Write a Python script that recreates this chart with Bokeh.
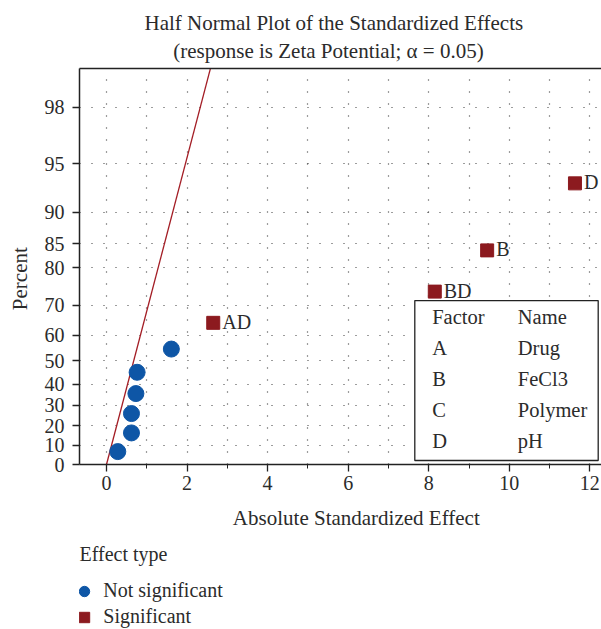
from statistics import NormalDist
from math import pi
from bokeh.plotting import figure
from bokeh.layouts import column
from bokeh.models import (Range1d, FixedTicker, LinearAxis, Label, BoxAnnotation,
                          Legend, LegendItem, ColumnDataSource)
from bokeh.core.properties import value
from bokeh.embed import file_html
from bokeh.resources import INLINE

# ---------------- data ----------------
ns_effect = [0.28, 0.62, 0.62, 0.73, 0.76, 1.61]
ns_percent = [6.7, 16.3, 26.0, 35.6, 45.2, 54.8]
sig_terms = ["AD", "BD", "B", "D"]
sig_effect = [2.65, 8.15, 9.45, 11.63]
sig_percent = [64.4, 74.0, 83.7, 93.3]
ref_effect = [0.0, 2.7]          # reference line: effect = half-normal score
percent_ticks = [0, 10, 20, 30, 40, 50, 60, 70, 80, 85, 90, 95, 98]
effect_ticks = [0, 2, 4, 6, 8, 10, 12]
effect_minor = [1, 3, 5, 7, 9, 11]
factor_codes = ["A", "B", "C", "D"]
factor_names = ["Drug", "FeCl3", "Polymer", "pH"]
effect_types = ["Not significant", "Significant"]

# ---------------- style ----------------
FONT = "Liberation Serif"
TXT = "#2b2b2b"
BLUE = "#0e56a6"
RED = "#8c1a1f"
LINE_RED = "#a31d25"
MAIN_H = 570


def hn(p):
    """half-normal probability scale"""
    return NormalDist().inv_cdf(0.5 + p / 200.0)


# pixel -> data helpers for placing annotations (layout only)
def X(px):
    return (px - 106.0) / 40.28


def Z(py):
    return (464.0 - py) / 153.6


src_ns = ColumnDataSource(dict(x=ns_effect, z=[hn(v) for v in ns_percent]))
src_sig = ColumnDataSource(dict(x=sig_effect, z=[hn(v) for v in sig_percent],
                                term=sig_terms))
tick_z = [hn(v) for v in percent_ticks]

p = figure(width=601, height=MAIN_H, output_backend="svg", toolbar_location=None,
           x_range=Range1d(X(79), X(601)), y_range=Range1d(0, Z(67.7)),
           min_border_left=79, min_border_right=0, min_border_top=68,
           min_border_bottom=MAIN_H - 464)
p.outline_line_color = None
p.background_fill_color = "white"

# axes
for ax in (p.xaxis[0], p.yaxis[0]):
    ax.axis_line_color = "#222222"
    ax.axis_line_width = 1.5
    ax.major_tick_line_color = "#222222"
    ax.major_tick_line_width = 1.3
    ax.major_tick_in = 0
    ax.major_tick_out = 7
    ax.major_label_text_font = FONT
    ax.major_label_text_font_size = "20px"
    ax.major_label_text_color = TXT

p.xaxis.ticker = FixedTicker(ticks=effect_ticks, minor_ticks=effect_minor)
p.xaxis.minor_tick_in = 0
p.xaxis.minor_tick_out = 4
p.xaxis.minor_tick_line_color = "#222222"
p.xaxis.major_label_standoff = 4

p.yaxis.ticker = FixedTicker(ticks=tick_z)
p.yaxis.major_label_overrides = {z: str(v) for z, v in zip(tick_z, percent_ticks)}
p.yaxis.minor_tick_line_color = None
p.yaxis.major_label_standoff = 8

top = LinearAxis(ticker=FixedTicker(ticks=[]), axis_line_color="#222222",
                 axis_line_width=1.5, major_tick_line_color=None,
                 minor_tick_line_color=None, major_label_text_font_size="0px")
p.add_layout(top, "above")

# grids (dotted)
for g in (p.xgrid[0], p.ygrid[0]):
    g.grid_line_color = "#3a3a3a"
    g.grid_line_dash = "1 11"
    g.grid_line_width = 1.2
p.xgrid.minor_grid_line_color = "#3a3a3a"
p.xgrid.minor_grid_line_dash = "1 11"
p.xgrid.minor_grid_line_width = 1.2

# reference line
p.line(ref_effect, ref_effect, line_color=LINE_RED, line_width=1.3)

p.scatter("x", "z", source=src_ns, marker="circle", size=16,
          fill_color=BLUE, line_color=BLUE)
p.scatter("x", "z", source=src_sig, marker="square", size=13,
          fill_color=RED, line_color=RED)
p.text("x", "z", text="term", source=src_sig, x_offset=9, y_offset=-1,
       text_baseline="middle", text_align="left",
       text_font=value(FONT), text_font_size="20px", text_color=TXT)

# factor table
box = BoxAnnotation(left=X(414.3), right=X(597.7), top=Z(300), bottom=Z(460),
                    fill_color="white", fill_alpha=1.0,
                    line_color="#222222", line_alpha=1.0, line_width=1.3)
p.add_layout(box)


def lab(text, px, py_base, size=20.5, align="left", side=None, angle=0.0,
        middle=False):
    """place a label by its baseline (converted to the em-box middle)"""
    py = py_base if middle else py_base - 0.3375 * size
    l = Label(x=X(px), y=Z(py), text=text, text_font=FONT,
              text_font_size="%gpx" % size, text_color=TXT, text_align=align,
              text_baseline="middle", angle=angle)
    if side is None:
        p.add_layout(l)
    else:
        p.add_layout(l, side)


lab("Factor", 431.7, 323.3)
lab("Name", 517.3, 323.3)
for i, (c, n) in enumerate(zip(factor_codes, factor_names)):
    yb = 354.0 + 31.1 * i
    lab(c, 431.7, yb)
    lab(n, 517.3, yb)

# titles and axis labels (in the side panels, so they are not clipped)
lab("Half Normal Plot of the Standardized Effects", 333.3, 29.3, size=21,
    align="center", side="above")
lab("(response is Zeta Potential; \u03b1 = 0.05)", 328.0, 57.3, size=21,
    align="center", side="above")
lab("Absolute Standardized Effect", 355.8, 525.0, size=21, align="center",
    side="below")
lab("Effect type", 79.0, 560.7, size=20, side="below")
lab("Percent", 19.0, 278.0, size=21, align="center", side="left",
    angle=pi / 2, middle=True)

# ---------------- effect-type legend (second strip) ----------------
H2 = 629 - MAIN_H
q = figure(width=601, height=H2, output_backend="svg", toolbar_location=None,
           x_range=Range1d(-10, -9), y_range=Range1d(-10, -9),
           x_axis_location=None, y_axis_location=None,
           min_border_left=0, min_border_right=0, min_border_top=0,
           min_border_bottom=0)
q.outline_line_color = None
q.background_fill_color = "white"
q.xgrid.visible = False
q.ygrid.visible = False
# legend proxies share the data; they lie outside this strip's ranges
k_ns = q.scatter("x", "z", source=src_ns, marker="circle",
                 fill_color=BLUE, line_color=BLUE)
k_sig = q.scatter("x", "z", source=src_sig, marker="square",
                  fill_color=RED, line_color=RED)

GLYPH_H = 26
legend = Legend(items=[LegendItem(label=effect_types[0], renderers=[k_ns]),
                       LegendItem(label=effect_types[1], renderers=[k_sig])],
                orientation="vertical", glyph_width=30, glyph_height=GLYPH_H,
                spacing=0, label_standoff=4, padding=0, margin=0,
                border_line_color=None, background_fill_alpha=0.0,
                label_text_font=FONT, label_text_font_size="20px",
                label_text_color=TXT)
leg_h = 2 * GLYPH_H
leg_top = 590.7 - GLYPH_H / 2.0
legend.location = (-9.7, 629 - leg_top - leg_h)   # relative to the strip frame
q.add_layout(legend)

open("out.html", "w").write(file_html(column(p, q, spacing=0), INLINE))
